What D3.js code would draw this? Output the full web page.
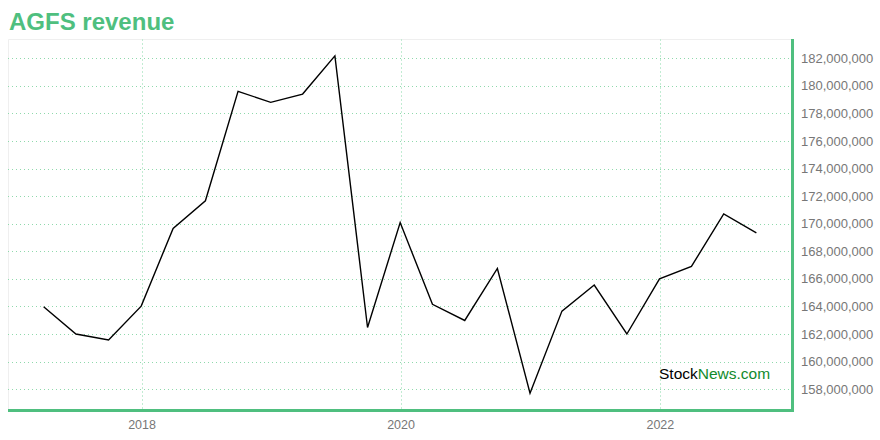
<!DOCTYPE html>
<html><head><meta charset="utf-8">
<script src="https://cdn.jsdelivr.net/npm/d3@7"></script>
<style>
html,body{margin:0;padding:0;background:#fff;}
svg{display:block;font-family:"Liberation Sans",Arial,Helvetica,sans-serif;}
</style></head>
<body>
<svg id="chart" width="880" height="440"></svg>
<script>
const title = "AGFS revenue";
const dates = ["2017-03-31","2017-06-30","2017-09-30","2017-12-31","2018-03-31","2018-06-30","2018-09-30","2018-12-31",
  "2019-03-31","2019-06-30","2019-09-30","2019-12-31","2020-03-31","2020-06-30","2020-09-30","2020-12-31",
  "2021-03-31","2021-06-30","2021-09-30","2021-12-31","2022-03-31","2022-06-30","2022-09-30"];
const revenue = [163970000,162000000,161570000,164020000,169660000,171660000,179600000,178800000,
  179400000,182170000,162470000,170080000,164150000,162980000,166750000,157710000,
  163660000,165550000,162000000,166000000,166900000,170710000,169340000];
const yTicks = [158e6,160e6,162e6,164e6,166e6,168e6,170e6,172e6,174e6,176e6,178e6,180e6,182e6];
const xTickYears = [2018,2020,2022];

const green = "#4fbf7f";
const svg = d3.select("#chart");
const m = {left:8, right:792, top:39, bottom:410};
const parse = d3.timeParse("%Y-%m-%d");
const data = dates.map((d,i)=>({date:parse(d), value:revenue[i]}));

const xExt = d3.extent(data, d=>d.date);
const xPad = (xExt[1]-xExt[0])*0.05;
const x = d3.scaleTime().domain([new Date(+xExt[0]-xPad), new Date(+xExt[1]+xPad)]).range([m.left, m.right]);
const yExt = d3.extent(data, d=>d.value);
const yPad = (yExt[1]-yExt[0])*0.05;
const y = d3.scaleLinear().domain([yExt[0]-yPad, yExt[1]+yPad]).range([m.bottom, m.top]);

// title
svg.append("text").attr("x",9).attr("y",30).attr("font-size",24).attr("font-weight","bold")
  .attr("fill",green).text(title);

// light frame top/left
svg.append("path").attr("d",`M${m.left+0.5},${m.bottom}V${m.top+0.5}H${m.right}`)
  .attr("fill","none").attr("stroke","#efefef").attr("stroke-width",1);

// grid
svg.append("g").selectAll("line").data(yTicks).join("line")
  .attr("x1",m.left).attr("x2",m.right)
  .attr("y1",d=>Math.round(y(d))+0.5).attr("y2",d=>Math.round(y(d))+0.5)
  .attr("stroke","#8fd9ac").attr("stroke-width",1).attr("stroke-dasharray","1,3");
const xTicks = xTickYears.map(yr=>new Date(yr,0,1));
svg.append("g").selectAll("line").data(xTicks).join("line")
  .attr("x1",d=>Math.round(x(d))+0.5).attr("x2",d=>Math.round(x(d))+0.5)
  .attr("y1",m.top).attr("y2",m.bottom)
  .attr("stroke","#c2ecd3").attr("stroke-width",1).attr("stroke-dasharray","2,2");

// line
const line = d3.line().x(d=>x(d.date)).y(d=>y(d.value));
svg.append("path").datum(data).attr("d",line).attr("fill","none")
  .attr("stroke","#000").attr("stroke-width",1.4).attr("stroke-linejoin","miter");

// right axis
const yAxis = d3.axisRight(y).tickValues(yTicks).tickSize(0).tickPadding(9)
  .tickFormat(d3.format(","));
const gy = svg.append("g").attr("transform",`translate(${m.right},0)`).call(yAxis);
gy.select(".domain").remove();
gy.selectAll("text").attr("font-size",13).attr("fill","#777").attr("font-family","Liberation Sans, Arial, sans-serif");

// bottom axis
const xAxis = d3.axisBottom(x).tickValues(xTicks).tickSize(0).tickPadding(10)
  .tickFormat(d3.timeFormat("%Y"));
const gx = svg.append("g").attr("transform",`translate(0,${m.bottom})`).call(xAxis);
gx.select(".domain").remove();
gx.selectAll("text").attr("font-size",12.5).attr("fill","#777").attr("font-family","Liberation Sans, Arial, sans-serif");

// axis lines
svg.append("line").attr("x1",m.left).attr("x2",m.right+2).attr("y1",m.bottom+0.5).attr("y2",m.bottom+0.5)
  .attr("stroke",green).attr("stroke-width",3);
svg.append("line").attr("x1",m.right+0.5).attr("x2",m.right+0.5).attr("y1",m.top).attr("y2",m.bottom+2)
  .attr("stroke",green).attr("stroke-width",3);

// watermark
const wm = svg.append("text").attr("x",659).attr("y",379).attr("font-size",15.5);
wm.append("tspan").attr("fill","#000").text("Stock");
wm.append("tspan").attr("fill","#118a2c").text("News.com");
</script>
</body></html>
